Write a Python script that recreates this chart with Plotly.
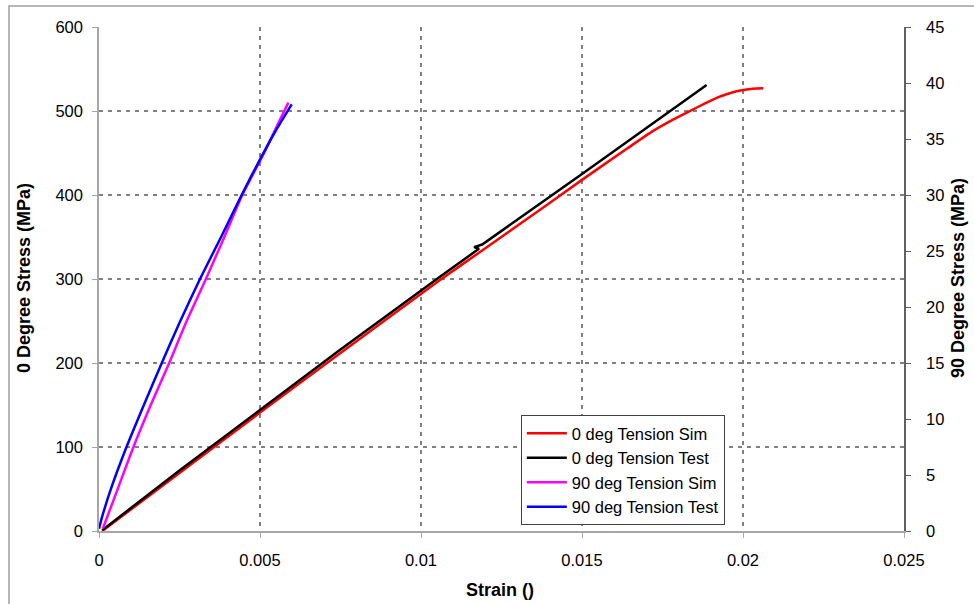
import plotly.graph_objects as go

# ---- data (strain in absolute units) ----
sim0_strain = [0.0001, 0.0025, 0.005, 0.0075, 0.0106, 0.0119, 0.0135, 0.015, 0.01639, 0.0172, 0.01784, 0.0183,
               0.01887, 0.0192, 0.01949, 0.0198, 0.02001, 0.0203, 0.02063]
sim0_stress = [0, 69, 141, 212, 299, 334, 377, 418, 455, 476, 490, 499,
               510, 516, 520, 523.5, 525, 526.5, 527]

test0_strain = [0.0001, 0.0025, 0.005, 0.0075, 0.0106, 0.0118, 0.01165, 0.0119, 0.015, 0.01773, 0.01887]
test0_stress = [1, 72, 144, 216, 303, 336, 338, 341, 425, 500, 531]

sim90_strain = [0.00012, 0.0006, 0.00107, 0.0016, 0.00218, 0.0027, 0.00332, 0.0039, 0.00445, 0.0051, 0.0055, 0.00588]
sim90_stress = [0.22, 3.9, 7.5, 11.2, 15.0, 18.6, 22.5, 26.3, 30.0, 33.6, 36.0, 38.25]   # MPa (right axis)

test90_strain = [0.0, 0.0001, 0.0004, 0.00086, 0.0014, 0.00195, 0.0025, 0.003137, 0.0038, 0.00443, 0.00505, 0.0055, 0.005985]
test90_stress = [0.2, 1.3, 4.0, 7.54, 11.3, 15.0, 18.6, 22.5, 26.3, 30.0, 33.45, 35.8, 38.1]  # MPa (right axis)

series_names = ["0 deg Tension Sim", "0 deg Tension Test", "90 deg Tension Sim", "90 deg Tension Test"]
series_colors = ["#FF0000", "#000000", "#FF00FF", "#0000FF"]
series_shapes = ["spline", "linear", "spline", "spline"]

x_ticks = [0, 0.005, 0.01, 0.015, 0.02, 0.025]
x_ticklabels = ["0", "0.005", "0.01", "0.015", "0.02", "0.025"]

FONT = "Liberation Sans, Arial, sans-serif"
GRID = "#808080"
AXIS = "#a6a6a6"

fig = go.Figure()
data = [
    (sim0_strain, sim0_stress, "y"),
    (test0_strain, test0_stress, "y"),
    (sim90_strain, sim90_stress, "y2"),
    (test90_strain, test90_stress, "y2"),
]
for i, (xs, ys, ax) in enumerate(data):
    line = dict(color=series_colors[i], width=2.5, shape=series_shapes[i])
    if series_shapes[i] == "spline":
        line["smoothing"] = 0.6
    fig.add_trace(go.Scatter(
        x=xs, y=ys, yaxis=ax, mode="lines", name=series_names[i], line=line,
    ))

fig.update_layout(
    width=974, height=604,
    margin=dict(l=99, r=70, t=27, b=73),
    paper_bgcolor="white", plot_bgcolor="white",
    font=dict(family=FONT, size=16.5, color="#000000"),
    showlegend=True,
    legend=dict(
        x=0.524, y=0.230, xanchor="left", yanchor="top",
        bgcolor="white", bordercolor="#404040", borderwidth=1,
        font=dict(family=FONT, size=16.5, color="#000000"),
        itemwidth=40,
    ),
    xaxis=dict(
        range=[0, 0.025], tickvals=x_ticks, ticktext=x_ticklabels,
        showgrid=True, gridcolor=GRID, griddash="4px,5px", gridwidth=1.5,
        showline=True, linecolor=AXIS, linewidth=1.5,
        ticks="outside", ticklen=5, tickcolor=AXIS, tickwidth=1,
        zeroline=False, ticklabelstandoff=8,
        tickfont=dict(family=FONT, size=16.5, color="#000000"),
    ),
    yaxis=dict(
        range=[0, 600], dtick=100, tick0=0,
        showgrid=True, gridcolor=GRID, griddash="4px,5px", gridwidth=1.5,
        showline=True, linecolor=AXIS, linewidth=1.5,
        ticks="outside", ticklen=5, tickcolor=AXIS, tickwidth=1,
        zeroline=False, ticklabelstandoff=6,
        tickfont=dict(family=FONT, size=16.5, color="#000000"),
    ),
    yaxis2=dict(
        range=[0, 45], dtick=5, tick0=0, overlaying="y", side="right",
        showgrid=False, showline=True, linecolor="#606060", linewidth=1.5,
        ticks="outside", ticklen=5, tickcolor="#606060", tickwidth=1,
        zeroline=False, ticklabelstandoff=12,
        tickfont=dict(family=FONT, size=16.5, color="#000000"),
    ),
    annotations=[
        dict(text="<b>Strain ()</b>", xref="paper", yref="paper",
             x=(500 - 99) / 805, y=(531 - 590) / 504, xanchor="center", yanchor="middle",
             showarrow=False, font=dict(family=FONT, size=18, color="#000000")),
        dict(text="<b>0 Degree Stress (MPa)</b>", xref="paper", yref="paper",
             x=(24 - 99) / 805, y=(531 - 278) / 504, xanchor="center", yanchor="middle",
             textangle=-90, showarrow=False, font=dict(family=FONT, size=18, color="#000000")),
        dict(text="<b>90 Degree Stress (MPa)</b>", xref="paper", yref="paper",
             x=(958 - 99) / 805, y=(531 - 278) / 504, xanchor="center", yanchor="middle",
             textangle=-90, showarrow=False, font=dict(family=FONT, size=18, color="#000000")),
    ],
    shapes=[
        dict(type="rect", xref="paper", yref="paper",
             x0=(9 - 99) / 805, x1=(990 - 99) / 805,
             y0=(531 - 6) / 504, y1=(531 - 620) / 504,
             line=dict(color="#a0a0a0", width=1.5), fillcolor="rgba(0,0,0,0)", layer="below"),
    ],
)

fig.write_html("out.html")
